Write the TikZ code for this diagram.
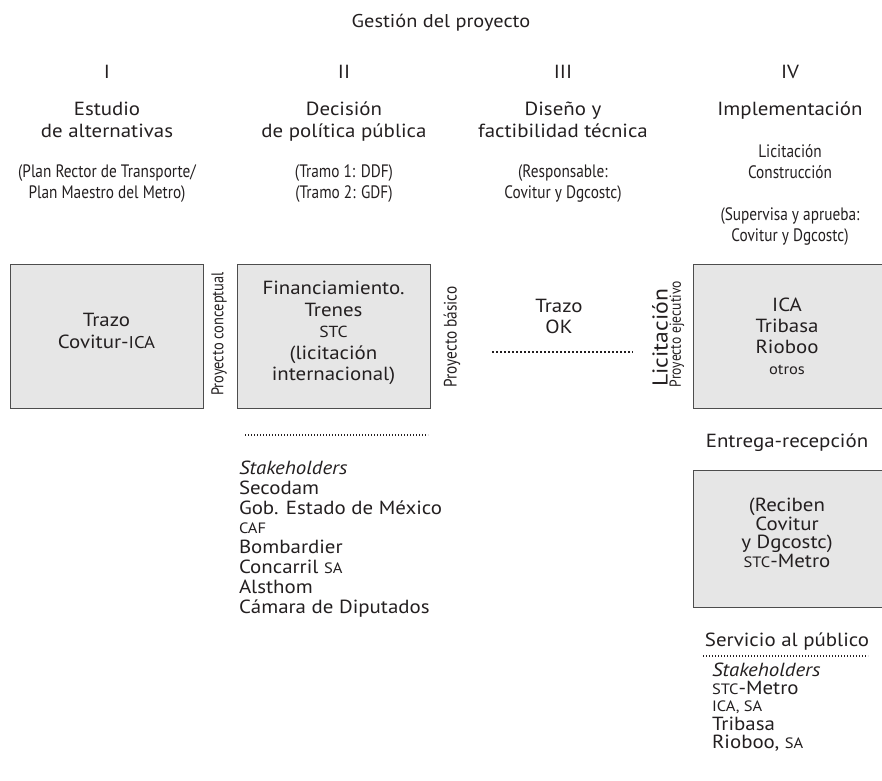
\documentclass[tikz,border=0pt]{standalone}
\usepackage{fontspec}
\setmainfont{PT Sans}[FakeStretch=1.1]
\newfontfamily\condfont{PT Sans}[FakeStretch=0.85]
\definecolor{ink}{HTML}{231F20}
\definecolor{boxfill}{HTML}{E6E6E6}
\definecolor{boxline}{HTML}{4D4D4D}
\begin{document}
\begin{tikzpicture}[x=1pt,y=-1pt,
  every node/.style={inner sep=0pt, outer sep=0pt, text=ink},
  main/.style={font=\fontsize{19}{22}\selectfont, anchor=base},
  cond/.style={font=\condfont\fontsize{18}{20.5}\selectfont, anchor=base},
  rot/.style={rotate=90, anchor=center},
  panel/.style={draw=boxline, fill=boxfill, line width=1pt},
  lst/.style={font=\fontsize{19}{20}\selectfont, anchor=base west},
  small/.style={font=\fontsize{15}{20}\selectfont},
  dotline/.style={draw=ink, line width=1.3pt, dash pattern=on 1.3pt off 1.7pt},
  dotbold/.style={draw=ink, line width=2.2pt, dash pattern=on 2pt off 2pt}]
\useasboundingbox (0,0) rectangle (882,780);

% header
\node[main, font=\fontsize{18.5}{22}\selectfont] (title) at (441,27) {Gestión del proyecto};
\node[main] (n1) at (107,78) {I};
\node[main] (n2) at (344,78) {II};
\node[main] (n3) at (563,78) {III};
\node[main] (n4) at (790,78) {IV};

\node[main] (t1a) at (107,115) {Estudio};
\node[main] (t1b) at (107,137) {de alternativas};
\node[main] (t2a) at (344,115) {Decisión};
\node[main] (t2b) at (344,137) {de política pública};
\node[main] (t3a) at (563,115) {Diseño y};
\node[main] (t3b) at (563,137) {factibilidad técnica};
\node[main] (t4a) at (790,115) {Implementación};

\node[cond] (s1a) at (107,177) {(Plan Rector de Transporte/};
\node[cond] (s1b) at (107,198) {Plan Maestro del Metro)};
\node[cond] (s2a) at (344,177) {(Tramo 1: DDF)};
\node[cond] (s2b) at (344,198) {(Tramo 2: GDF)};
\node[cond] (s3a) at (563,177) {(Responsable:};
\node[cond] (s3b) at (563,198) {Covitur y Dgcostc)};
\node[cond] (s4a) at (790,157) {Licitación};
\node[cond] (s4b) at (790,178) {Construcción};
\node[cond] (s4c) at (790,220) {(Supervisa y aprueba:};
\node[cond] (s4d) at (790,241) {Covitur y Dgcostc)};

% boxes
\path[panel] (10.5,264) rectangle (203,408);
\node[font=\fontsize{19}{22}\selectfont, align=center] (b1) at (106.5,331)
  {Trazo\\Covitur-{\fontsize{17}{22}\selectfont ICA}};

\path[panel] (237,264) rectangle (430,408);
\node[font=\fontsize{19}{21.5}\selectfont, align=center] (b2) at (333.5,333)
  {Financiamiento.\\Trenes\\{\fontsize{16}{21.5}\selectfont STC}\\(licitación\\internacional)};

\node[rot, font=\condfont\fontsize{17}{18}\selectfont] (pc) at (219,334) {Proyecto conceptual};
\node[rot, font=\condfont\fontsize{18}{18}\selectfont] (pb) at (452,337) {Proyecto básico};

\node[main] (tz1) at (559,312) {Trazo};
\node[main] (tz2) at (559,333) {OK};
\coordinate (d1s) at (492,352);
\coordinate (d1e) at (633,352);
\path[dotbold] (d1s) -- (d1e);

\node[rot, font=\fontsize{21.5}{24}\selectfont] (lic) at (660,338) {Licitación};
\node[rot, font=\condfont\fontsize{16}{18}\selectfont] (pe) at (677,334) {Proyecto ejecutivo};

\path[panel] (693,264) rectangle (882,408);
\node[font=\fontsize{19}{21}\selectfont, align=center] (b4) at (787,336)
  {ICA\\Tribasa\\Rioboo\\{\fontsize{15}{21}\selectfont otros}};

\node[main] (er) at (787,447) {Entrega-recepción};

\path[panel] (693,470) rectangle (882,607);
\node[font=\fontsize{19}{18.5}\selectfont, align=center] (b5) at (787,533)
  {(Reciben\\Covitur\\y Dgcostc)\\{\fontsize{15}{18.5}\selectfont STC}-Metro};

% first stakeholder list
\coordinate (d2s) at (245,435);
\coordinate (d2e) at (428,435);
\path[dotline] (d2s) -- (d2e);
\node[lst] (l1) at (239,474) {\itshape Stakeholders};
\node[lst] (l2) at (239,494) {Secodam};
\node[lst] (l3) at (239,514) {Gob. Estado de México};
\node[lst, small] (l4) at (239,533) {CAF};
\node[lst] (l5) at (239,553) {Bombardier};
\node[lst] (l6) at (239,573) {Concarril {\fontsize{15}{20}\selectfont SA}};
\node[lst] (l7) at (239,593) {Alsthom};
\node[lst] (l8) at (239,613) {Cámara de Diputados};

% service
\node[main] (sp) at (787,646) {Servicio al público};
\coordinate (d3s) at (703,656);
\coordinate (d3e) at (868,656);
\path[dotline] (d3s) -- (d3e);
\node[lst] (m1) at (712,676) {\itshape Stakeholders};
\node[lst] (m2) at (712,694) {{\fontsize{15}{20}\selectfont STC}-Metro};
\node[lst, small] (m3) at (712,711) {ICA, SA};
\node[lst] (m4) at (712,730) {Tribasa};
\node[lst] (m5) at (712,748) {Rioboo, {\fontsize{15}{20}\selectfont SA}};
\end{tikzpicture}
\end{document}
